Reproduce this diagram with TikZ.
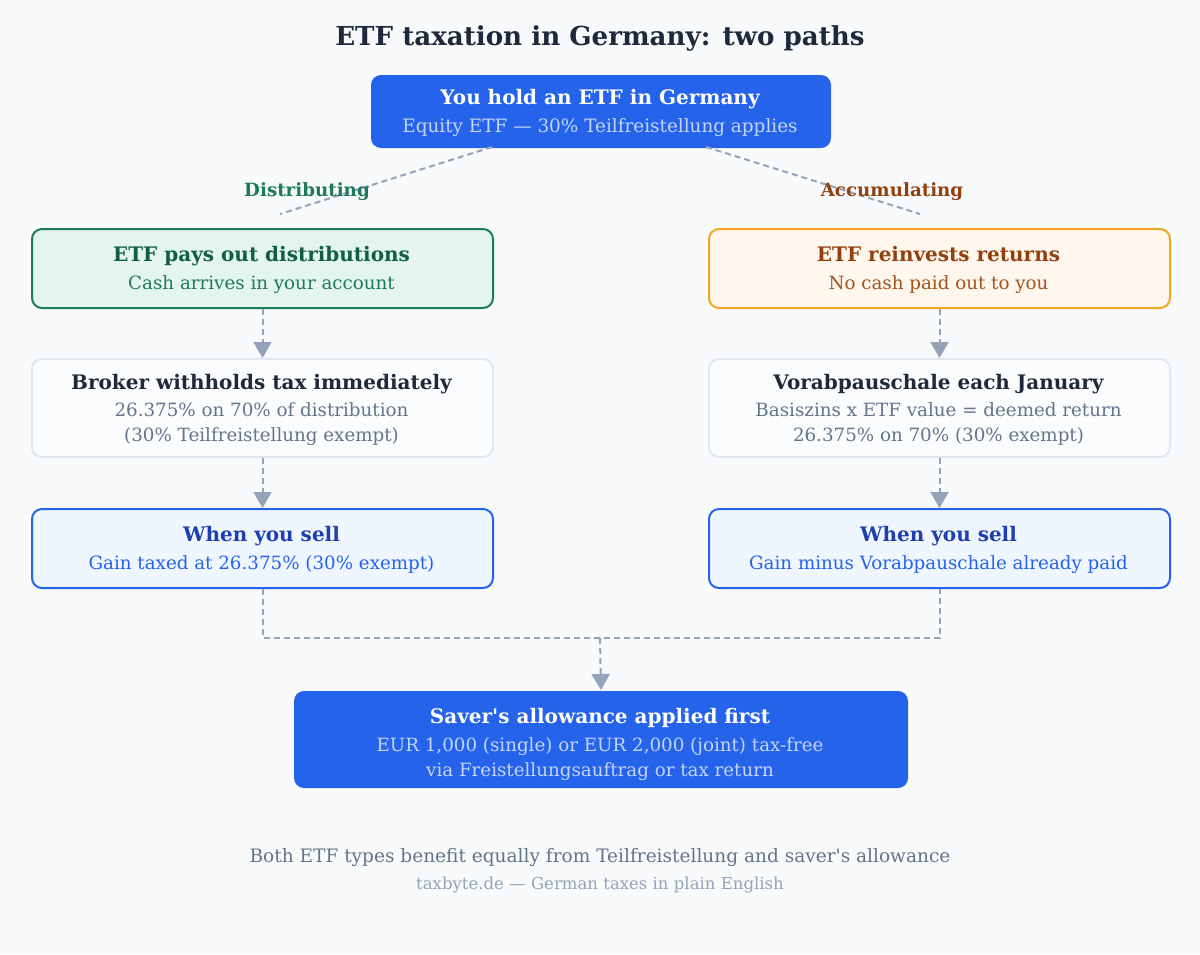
\documentclass[tikz,border=0pt]{standalone}
\usepackage{fontspec}
\setmainfont{DejaVu Serif}
\newfontfamily\dvs{DejaVu Serif}
\usetikzlibrary{arrows.meta}
\definecolor{bg}{HTML}{F8FAFC}
\definecolor{blue}{HTML}{2563EB}
\definecolor{lblue}{HTML}{C3D5FB}
\definecolor{conn}{HTML}{94A3B8}
\definecolor{gstroke}{HTML}{1E7A5C}
\definecolor{gfill}{HTML}{E3F5EC}
\definecolor{gtitle}{HTML}{115E45}
\definecolor{gsub}{HTML}{1F7A5C}
\definecolor{ostroke}{HTML}{F5A524}
\definecolor{ofill}{HTML}{FFF7ED}
\definecolor{otitle}{HTML}{92400E}
\definecolor{osub}{HTML}{A3531A}
\definecolor{nstroke}{HTML}{E2E8F0}
\definecolor{nfill}{HTML}{FBFCFE}
\definecolor{ntitle}{HTML}{1E293B}
\definecolor{ntext}{HTML}{64748B}
\definecolor{sfill}{HTML}{EFF6FF}
\definecolor{stitle}{HTML}{1E40AF}
\newcommand{\fs}[1]{\fontsize{#1}{#1}\selectfont}
\tikzset{
  x=0.75pt,y=-0.75pt,
  box/.style={rounded corners=7.5pt,line width=1.5pt,inner sep=0pt,anchor=north west},
  txt/.style={inner sep=0pt,anchor=base,font=\dvs},
  conn/.style={draw=conn,line width=1.5pt,dash pattern=on 4.5pt off 3pt},
  arr/.style={conn,-{Triangle[length=12pt,width=13.5pt]}},
}
\begin{document}
\begin{tikzpicture}
\fill[bg] (0,0) rectangle (1200,954);
\useasboundingbox (0,0) rectangle (1200,954);
% title
\node[txt,text=ntitle] (title) at (600,45) {\fs{19.6}\bfseries ETF taxation in Germany: two paths};
% top
\node[box,fill=blue,draw=none,minimum width=345pt,minimum height=54.75pt] (top) at (370,74) {};
\node[txt,text=white] (topt) at (600,104) {\fs{15}\bfseries You hold an ETF in Germany};
\node[txt,text=lblue] (tops) at (600,132) {\fs{13.8}Equity ETF — 30\% Teilfreistellung applies};
% left column
\node[box,fill=gfill,draw=gstroke,minimum width=345.75pt,minimum height=59.25pt] (l1) at (31,228) {};
\node[txt,text=gtitle] (l1t) at (261.5,261) {\fs{15}\bfseries ETF pays out distributions};
\node[txt,text=gsub] (l1s) at (261.5,289) {\fs{13.7}Cash arrives in your account};
\node[box,fill=nfill,draw=nstroke,minimum width=345.75pt,minimum height=73.5pt] (l2) at (31,358) {};
\node[txt,text=ntitle] (l2t) at (261.5,389) {\fs{15}\bfseries Broker withholds tax immediately};
\node[txt,text=ntext] (l2a) at (261.5,416) {\fs{13.7}26.375\% on 70\% of distribution};
\node[txt,text=ntext] (l2b) at (261.5,441) {\fs{13.7}(30\% Teilfreistellung exempt)};
\node[box,fill=sfill,draw=blue,minimum width=345.75pt,minimum height=59.25pt] (l3) at (31,508) {};
\node[txt,text=stitle] (l3t) at (261.5,541) {\fs{15}\bfseries When you sell};
\node[txt,text=blue] (l3s) at (261.5,569) {\fs{13.7}Gain taxed at 26.375\% (30\% exempt)};
% right column
\node[box,fill=ofill,draw=ostroke,minimum width=345.75pt,minimum height=59.25pt] (r1) at (708,228) {};
\node[txt,text=otitle] (r1t) at (938.5,261) {\fs{15}\bfseries ETF reinvests returns};
\node[txt,text=osub] (r1s) at (938.5,289) {\fs{13.7}No cash paid out to you};
\node[box,fill=nfill,draw=nstroke,minimum width=345.75pt,minimum height=73.5pt] (r2) at (708,358) {};
\node[txt,text=ntitle] (r2t) at (938.5,389) {\fs{15}\bfseries Vorabpauschale each January};
\node[txt,text=ntext] (r2a) at (938.5,416) {\fs{13.7}Basiszins x ETF value = deemed return};
\node[txt,text=ntext] (r2b) at (938.5,441) {\fs{13.7}26.375\% on 70\% (30\% exempt)};
\node[box,fill=sfill,draw=blue,minimum width=345.75pt,minimum height=59.25pt] (r3) at (708,508) {};
\node[txt,text=stitle] (r3t) at (938.5,541) {\fs{15}\bfseries When you sell};
\node[txt,text=blue] (r3s) at (938.5,569) {\fs{13.7}Gain minus Vorabpauschale already paid};
% bottom
\node[box,fill=blue,draw=none,minimum width=460.5pt,minimum height=72.75pt] (bot) at (293,690) {};
\node[txt,text=white] (bott) at (600,723) {\fs{15}\bfseries Saver's allowance applied first};
\node[txt,text=lblue] (bota) at (600,751) {\fs{13.7}EUR 1,000 (single) or EUR 2,000 (joint) tax-free};
\node[txt,text=lblue] (botb) at (600,776) {\fs{13.7}via Freistellungsauftrag or tax return};
% branches
\coordinate (tl) at (492,147);
\coordinate (tr) at (706,147);
\coordinate (dl) at (280,214);
\coordinate (dr) at (920,214);
\draw[conn] (tl) -- (dl);
\draw[conn] (tr) -- (dr);
\node[txt,text=gsub] (dist) at (307,196) {\fs{13.7}\bfseries Distributing};
\node[txt,text=otitle] (acc) at (892,196) {\fs{13.7}\bfseries Accumulating};
% arrows
\draw[arr] (l1.south) -- (l2.north);
\draw[arr] (l2.south) -- (l3.north);
\draw[arr] (r1.south) -- (r2.north);
\draw[arr] (r2.south) -- (r3.north);
\coordinate (mid) at (600,638);
\draw[conn] (l3.south) |- (mid) -| (r3.south);
\draw[arr] (mid) -- (bot.north);
% footer
\node[txt,text=ntext] (f1) at (600,862) {\fs{13.9}Both ETF types benefit equally from Teilfreistellung and saver's allowance};
\node[txt,text=conn] (f2) at (600,889) {\fs{12.4}taxbyte.de — German taxes in plain English};
\end{tikzpicture}
\end{document}
